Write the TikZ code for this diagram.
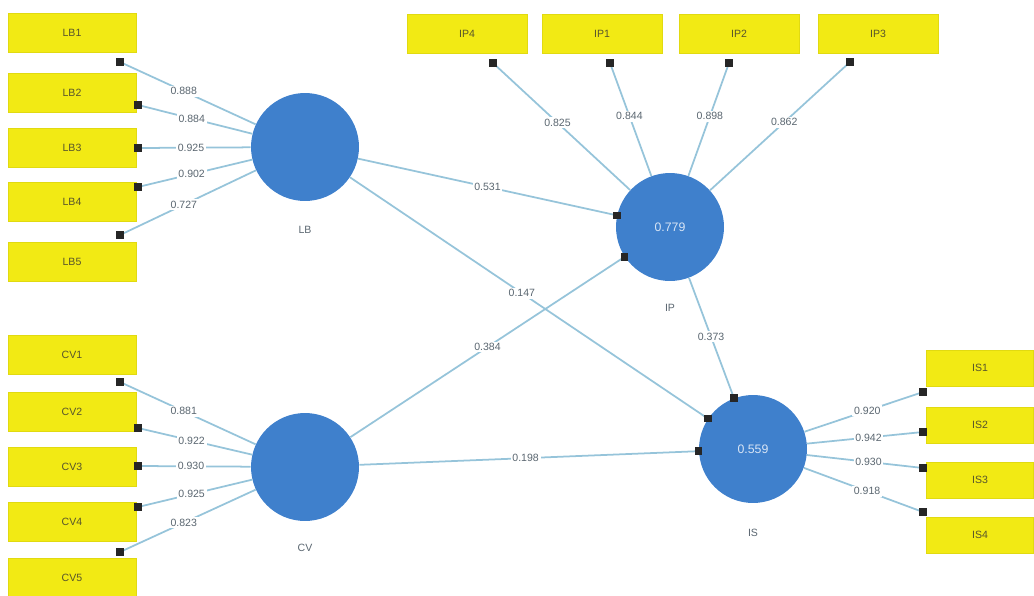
\documentclass[tikz,border=0pt]{standalone}
\usepackage{fontspec}
\setmainfont{Liberation Sans}
\definecolor{ind-yellow}{HTML}{F2EA14}
\definecolor{lat-blue}{HTML}{3F80CC}
\definecolor{path-blue}{HTML}{96C4DA}
\definecolor{label-gray}{HTML}{5A6670}

\begin{document}
\begin{tikzpicture}[x=0.02cm, y=-0.02cm,
    every node/.style={font=\fontsize{6}{7}\selectfont},
    ind/.style={draw=ind-yellow!85!olive, fill=ind-yellow, minimum width=2.56cm,
      minimum height=0.78cm, text=olive!50!black},
    lat/.style={circle, fill=lat-blue, minimum size=2.16cm, inner sep=0pt,
      text=white!80!lat-blue, font=\fontsize{7}{8}\selectfont},
    link/.style={draw=path-blue, line width=1pt},
    sq/.style={fill=black!85, minimum size=4.2pt, inner sep=0pt, pos=1},
    coef/.style={fill=white, inner sep=1pt, text=label-gray},
    load/.style={coef, pos=0.53}]
  \useasboundingbox (0,0) rectangle (1034,595);

  % latent variables
  \node[lat] (lb) at (305,147) {};
  \node[text=label-gray] (lbname) at (305,230) {LB};
  \node[lat] (ip) at (670,227) {0.779};
  \node[text=label-gray] (ipname) at (670,308) {IP};
  \node[lat] (cv) at (305,467) {};
  \node[text=label-gray] (cvname) at (305,548) {CV};
  \node[lat] (is) at (753,449) {0.559};
  \node[text=label-gray] (isname) at (753,533) {IS};

  % indicators of LB
  \node[ind] (lb1) at (72,33) {LB1};
  \node[ind] (lb2) at (72,93) {LB2};
  \node[ind] (lb3) at (72,148) {LB3};
  \node[ind] (lb4) at (72,202) {LB4};
  \node[ind] (lb5) at (72,262) {LB5};
  \coordinate (lb1e) at (120,62);
  \coordinate (lb2e) at (138,105);
  \coordinate (lb3e) at (138,148);
  \coordinate (lb4e) at (138,187);
  \coordinate (lb5e) at (120,235);

  % indicators of IP
  \node[ind, minimum width=2.4cm] (ip4) at (467,34) {IP4};
  \node[ind, minimum width=2.4cm] (ip1) at (602,34) {IP1};
  \node[ind, minimum width=2.4cm] (ip2) at (739,34) {IP2};
  \node[ind, minimum width=2.4cm] (ip3) at (878,34) {IP3};
  \coordinate (ip4e) at (493,63);
  \coordinate (ip1e) at (610,63);
  \coordinate (ip2e) at (729,63);
  \coordinate (ip3e) at (850,62);

  % indicators of CV
  \node[ind] (cv1) at (72,355) {CV1};
  \node[ind] (cv2) at (72,412) {CV2};
  \node[ind] (cv3) at (72,467) {CV3};
  \node[ind] (cv4) at (72,522) {CV4};
  \node[ind] (cv5) at (72,578) {CV5};
  \coordinate (cv1e) at (120,382);
  \coordinate (cv2e) at (138,428);
  \coordinate (cv3e) at (138,466);
  \coordinate (cv4e) at (138,507);
  \coordinate (cv5e) at (120,552);

  % indicators of IS
  \node[ind, minimum width=2.14cm, minimum height=0.72cm] (is1) at (980,368) {IS1};
  \node[ind, minimum width=2.14cm, minimum height=0.72cm] (is2) at (980,425) {IS2};
  \node[ind, minimum width=2.14cm, minimum height=0.72cm] (is3) at (980,480) {IS3};
  \node[ind, minimum width=2.14cm, minimum height=0.72cm] (is4) at (980,535) {IS4};
  \coordinate (is1e) at (923,392);
  \coordinate (is2e) at (923,432);
  \coordinate (is3e) at (923,468);
  \coordinate (is4e) at (923,512);

  % outer loadings
  \draw[link] (lb) -- (lb1e) node[load] {0.888} node[sq] {};
  \draw[link] (lb) -- (lb2e) node[load] {0.884} node[sq] {};
  \draw[link] (lb) -- (lb3e) node[load] {0.925} node[sq] {};
  \draw[link] (lb) -- (lb4e) node[load] {0.902} node[sq] {};
  \draw[link] (lb) -- (lb5e) node[load] {0.727} node[sq] {};
  \draw[link] (ip) -- (ip4e) node[load] {0.825} node[sq] {};
  \draw[link] (ip) -- (ip1e) node[load] {0.844} node[sq] {};
  \draw[link] (ip) -- (ip2e) node[load] {0.898} node[sq] {};
  \draw[link] (ip) -- (ip3e) node[load] {0.862} node[sq] {};
  \draw[link] (cv) -- (cv1e) node[load] {0.881} node[sq] {};
  \draw[link] (cv) -- (cv2e) node[load] {0.922} node[sq] {};
  \draw[link] (cv) -- (cv3e) node[load] {0.930} node[sq] {};
  \draw[link] (cv) -- (cv4e) node[load] {0.925} node[sq] {};
  \draw[link] (cv) -- (cv5e) node[load] {0.823} node[sq] {};
  \draw[link] (is) -- (is1e) node[load] {0.920} node[sq] {};
  \draw[link] (is) -- (is2e) node[load] {0.942} node[sq] {};
  \draw[link] (is) -- (is3e) node[load] {0.930} node[sq] {};
  \draw[link] (is) -- (is4e) node[load] {0.918} node[sq] {};

  % path coefficients
  \draw[link] (lb) -- (ip) node[coef, pos=0.5] {0.531} node[sq] {};
  \draw[link] (lb) -- (is) node[coef, pos=0.48] {0.147} node[sq] {};
  \draw[link] (cv) -- (ip) node[coef, pos=0.5] {0.384} node[sq] {};
  \draw[link] (cv) -- (is) node[coef, pos=0.49] {0.198} node[sq] {};
  \draw[link] (ip) -- (is) node[coef, pos=0.49] {0.373} node[sq] {};
\end{tikzpicture}
\end{document}
